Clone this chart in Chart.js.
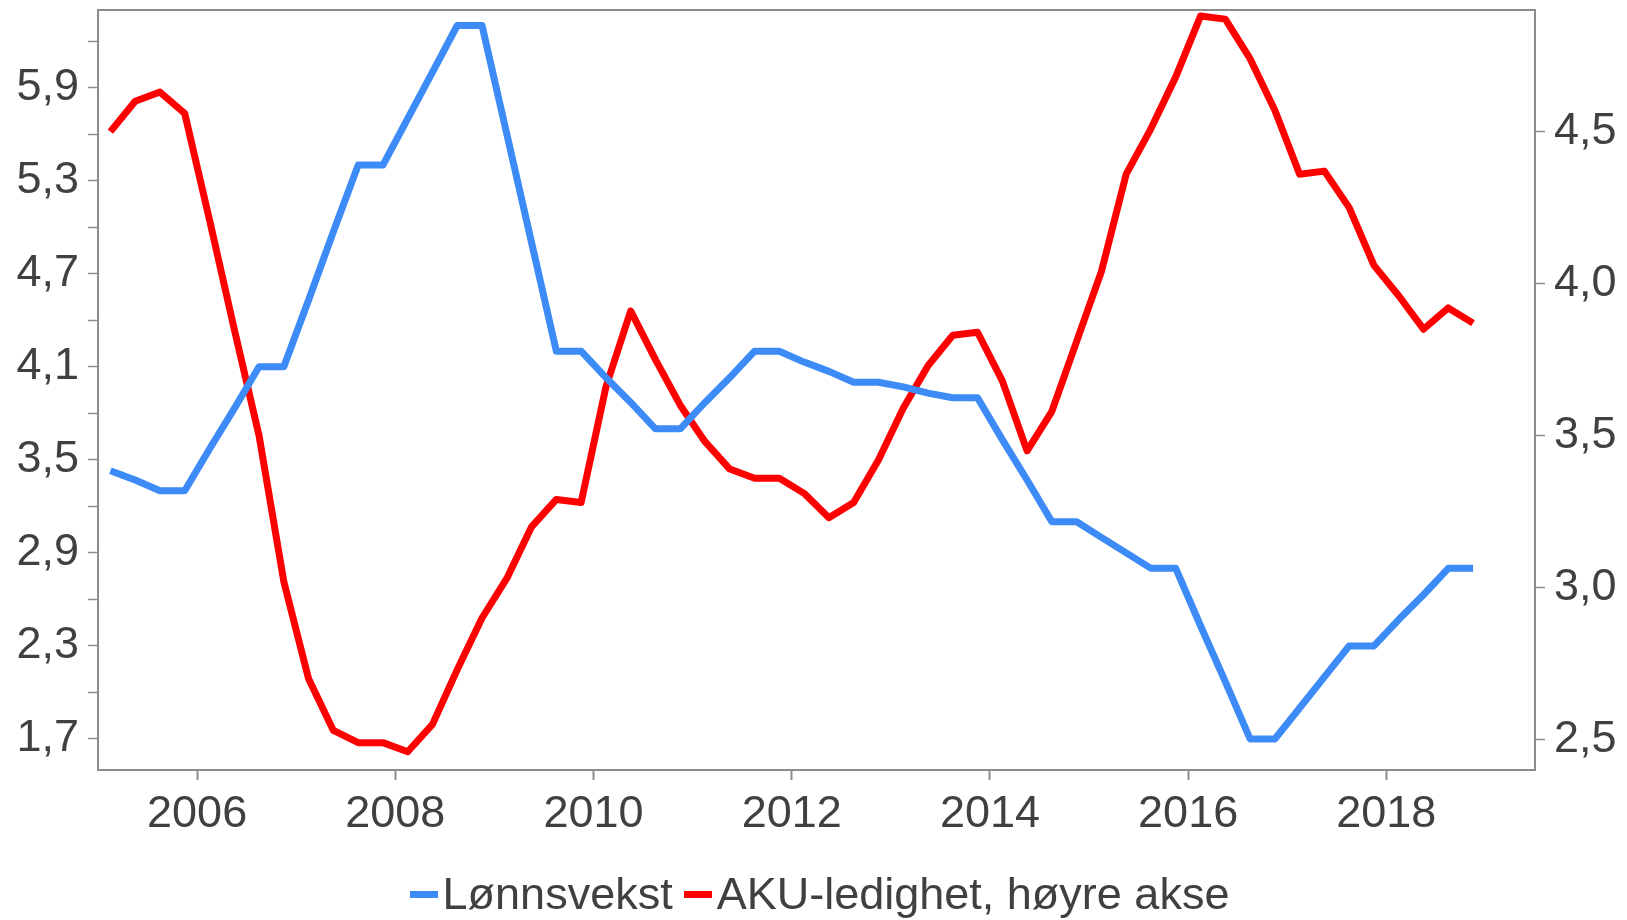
<!DOCTYPE html>
<html>
<head>
<meta charset="utf-8">
<script src="https://cdn.jsdelivr.net/npm/chart.js@4.4.1/dist/chart.umd.min.js"></script>
<style>
  html, body { margin: 0; padding: 0; background: #ffffff; }
  #wrap { position: relative; width: 1627px; height: 920px; }
  #chart { position: absolute; left: 0; top: 0; }
  #legend { position: absolute; left: 0; top: 868px; width: 1627px; display: flex; justify-content: center;
            padding-left: 12px; box-sizing: border-box;
            font-family: 'Liberation Sans', Arial, sans-serif; font-size: 45px; color: #404040; line-height: 52px; }
  .item { display: flex; align-items: center; margin-right: 11px; white-space: nowrap; }
  .item:last-child { margin-right: 0; }
  .mark { display: inline-block; width: 28px; height: 7px; margin-right: 5px; }
</style>
</head>
<body>
<div id="wrap">
  <canvas id="chart" width="1627" height="920"></canvas>
  <div id="legend"></div>
</div>
<script>
// Quarterly periods
const periods = [
  "2005K1","2005K2","2005K3","2005K4","2006K1","2006K2","2006K3","2006K4",
  "2007K1","2007K2","2007K3","2007K4","2008K1","2008K2","2008K3","2008K4",
  "2009K1","2009K2","2009K3","2009K4","2010K1","2010K2","2010K3","2010K4",
  "2011K1","2011K2","2011K3","2011K4","2012K1","2012K2","2012K3","2012K4",
  "2013K1","2013K2","2013K3","2013K4","2014K1","2014K2","2014K3","2014K4",
  "2015K1","2015K2","2015K3","2015K4","2016K1","2016K2","2016K3","2016K4",
  "2017K1","2017K2","2017K3","2017K4","2018K1","2018K2","2018K3","2018K4"
];

// Lønnsvekst (left axis)
const wageGrowth = [
  3.43, 3.37, 3.3, 3.3,   3.57, 3.83, 4.1, 4.1,
  4.53, 4.97, 5.4, 5.4,   5.7, 6.0, 6.3, 6.3,
  5.6, 4.9, 4.2, 4.2,     4.03, 3.87, 3.7, 3.7,
  3.87, 4.03, 4.2, 4.2,   4.13, 4.07, 4.0, 4.0,
  3.97, 3.93, 3.9, 3.9,   3.63, 3.37, 3.1, 3.1,
  3.0, 2.9, 2.8, 2.8,     2.43, 2.07, 1.7, 1.7,
  1.9, 2.1, 2.3, 2.3,     2.47, 2.63, 2.8, 2.8
];

// AKU-ledighet (right axis)
const unemployment = [
  4.50, 4.60, 4.63, 4.56, 4.21, 3.85, 3.50, 3.02,
  2.70, 2.53, 2.49, 2.49, 2.46, 2.55, 2.73, 2.90,
  3.03, 3.20, 3.29, 3.28, 3.66, 3.91, 3.75, 3.60,
  3.48, 3.39, 3.36, 3.36, 3.31, 3.23, 3.28, 3.42,
  3.59, 3.73, 3.83, 3.84, 3.68, 3.45, 3.58, 3.81,
  4.04, 4.36, 4.51, 4.68, 4.88, 4.87, 4.74, 4.57,
  4.36, 4.37, 4.25, 4.06, 3.96, 3.85, 3.92, 3.87
];

const seriesLabels = ["Lønnsvekst", "AKU-ledighet, høyre akse"];
const seriesColors = ["#3d8bf7", "#ff0000"];

// Tick values
const xTickYears = [2006, 2008, 2010, 2012, 2014, 2016, 2018];
const leftTickValues = [1.7, 2.0, 2.3, 2.6, 2.9, 3.2, 3.5, 3.8, 4.1, 4.4, 4.7, 5.0, 5.3, 5.6, 5.9, 6.2];
const leftTickLabels = ["1,7", "", "2,3", "", "2,9", "", "3,5", "", "4,1", "", "4,7", "", "5,3", "", "5,9", ""];
const rightTickValues = [2.5, 3.0, 3.5, 4.0, 4.5];
const rightTickLabels = ["2,5", "3,0", "3,5", "4,0", "4,5"];

function periodToX(p) {
  const year = parseInt(p.slice(0, 4), 10);
  const q = parseInt(p.slice(5), 10);
  return year + (q - 0.5) / 4;
}

const FONT = "'Liberation Sans', Arial, sans-serif";
const TEXT = "#404040";
const AXIS = "#8c8c8c";

const ds = (vals, i, axis) => ({
  label: seriesLabels[i],
  data: periods.map((p, k) => ({ x: periodToX(p), y: vals[k] })),
  borderColor: seriesColors[i],
  backgroundColor: seriesColors[i],
  borderWidth: 7,
  pointRadius: 0,
  tension: 0,
  borderJoinStyle: 'round',
  borderCapStyle: 'butt',
  yAxisID: axis
});

const noPad = s => { s.paddingTop = 0; s.paddingBottom = 0; s.paddingLeft = 0; s.paddingRight = 0; };

const htmlLegend = {
  id: 'htmlLegend',
  afterUpdate(chart) {
    const el = document.getElementById('legend');
    el.innerHTML = '';
    chart.data.datasets.forEach(d => {
      const item = document.createElement('span');
      item.className = 'item';
      const m = document.createElement('span');
      m.className = 'mark';
      m.style.background = d.borderColor;
      const t = document.createElement('span');
      t.textContent = d.label;
      item.appendChild(m); item.appendChild(t);
      el.appendChild(item);
    });
  }
};

new Chart(document.getElementById('chart'), {
  type: 'line',
  data: { datasets: [ds(wageGrowth, 0, 'y'), ds(unemployment, 1, 'y2')] },
  options: {
    responsive: false,
    animation: false,
    layout: { padding: { top: 10, left: 0, right: 0, bottom: 0 } },
    plugins: { legend: { display: false }, tooltip: { enabled: false } },
    scales: {
      x: {
        type: 'linear', position: 'bottom', min: 2005, max: 2019.5,
        afterBuildTicks: s => { s.ticks = xTickYears.map(v => ({ value: v })); },
        afterFit: s => { s.height = 150; noPad(s); },
        grid: { drawOnChartArea: false, drawTicks: true, tickLength: 10, color: AXIS, tickWidth: 2 },
        border: { display: true, color: AXIS, width: 2 },
        ticks: { autoSkip: false, maxRotation: 0, padding: 8, color: TEXT, font: { family: FONT, size: 45 },
                 callback: v => String(v) }
      },
      x2: {
        type: 'linear', position: 'top', min: 2005, max: 2019.5,
        afterFit: s => { s.height = 0; noPad(s); },
        grid: { drawOnChartArea: false, drawTicks: false },
        border: { display: true, color: AXIS, width: 2 },
        ticks: { display: false }
      },
      y: {
        type: 'linear', position: 'left', min: 1.5, max: 6.4,
        afterBuildTicks: s => { s.ticks = leftTickValues.map(v => ({ value: v })); },
        afterFit: s => { s.width = 98; noPad(s); },
        grid: { drawOnChartArea: false, drawTicks: true, tickLength: 10, color: AXIS, tickWidth: 1.5 },
        border: { display: true, color: AXIS, width: 2 },
        ticks: { autoSkip: false, padding: 9, color: TEXT, font: { family: FONT, size: 45 },
                 callback: (v, i) => leftTickLabels[leftTickValues.indexOf(Math.round(v * 10) / 10)] }
      },
      y2: {
        type: 'linear', position: 'right', min: 2.4, max: 4.9,
        afterBuildTicks: s => { s.ticks = rightTickValues.map(v => ({ value: v })); },
        afterFit: s => { s.width = 92; noPad(s); },
        grid: { drawOnChartArea: false, drawTicks: true, tickLength: 10, color: AXIS, tickWidth: 1.5 },
        border: { display: true, color: AXIS, width: 2 },
        ticks: { autoSkip: false, padding: 9, color: TEXT, font: { family: FONT, size: 45 },
                 callback: v => rightTickLabels[rightTickValues.indexOf(Math.round(v * 10) / 10)] }
      }
    }
  },
  plugins: [htmlLegend]
});
</script>
</body>
</html>
